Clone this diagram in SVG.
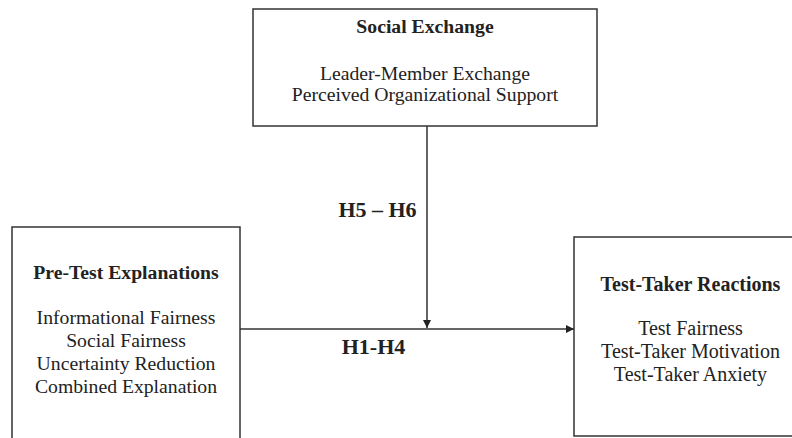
<svg xmlns="http://www.w3.org/2000/svg" width="792" height="438" viewBox="0 0 792 438">
<style>
.box{fill:#fff;stroke:#333;stroke-width:1.5}
.t{font-family:"Liberation Serif",serif;font-size:19.7px;fill:#222;text-anchor:middle}
.r{font-size:20px}
.b{font-weight:bold}
.lbl{font-family:"Liberation Serif",serif;font-size:22px;font-weight:bold;fill:#222;text-anchor:middle}
.edge{stroke:#333;stroke-width:1.5;fill:none}
</style>
<defs>
<marker id="ah" viewBox="0 0 10 10" refX="10" refY="5" markerWidth="8" markerHeight="8" markerUnits="userSpaceOnUse" orient="auto">
<path d="M0,0 L10,5 L0,10 z" fill="#222"/>
</marker>
</defs>
<rect width="792" height="438" fill="#fff"/>
<g id="social-exchange">
<rect class="box" x="253" y="9" width="344" height="117"/>
<text class="t b" x="425" y="33">Social Exchange</text>
<text class="t" x="425" y="80">Leader-Member Exchange</text>
<text class="t" x="425" y="101">Perceived Organizational Support</text>
</g>
<g id="pre-test">
<rect class="box" x="12" y="227" width="228" height="230"/>
<text class="t b" x="126" y="279">Pre-Test Explanations</text>
<text class="t" x="126" y="324">Informational Fairness</text>
<text class="t" x="126" y="347">Social Fairness</text>
<text class="t" x="126" y="370">Uncertainty Reduction</text>
<text class="t" x="126" y="393">Combined Explanation</text>
</g>
<g id="reactions">
<rect class="box" x="574" y="237" width="240" height="199"/>
<text class="t r b" x="690.5" y="291">Test-Taker Reactions</text>
<text class="t r" x="690.5" y="335">Test Fairness</text>
<text class="t r" x="690.5" y="358">Test-Taker Motivation</text>
<text class="t r" x="690.5" y="381">Test-Taker Anxiety</text>
</g>
<g id="connectors">
<line class="edge" x1="240" y1="329" x2="574" y2="329" marker-end="url(#ah)"/>
<line class="edge" x1="427" y1="126" x2="427" y2="328" marker-end="url(#ah)"/>
<text class="lbl" x="377.5" y="217">H5 – H6</text>
<text class="lbl" x="373.5" y="354">H1-H4</text>
</g>
</svg>
